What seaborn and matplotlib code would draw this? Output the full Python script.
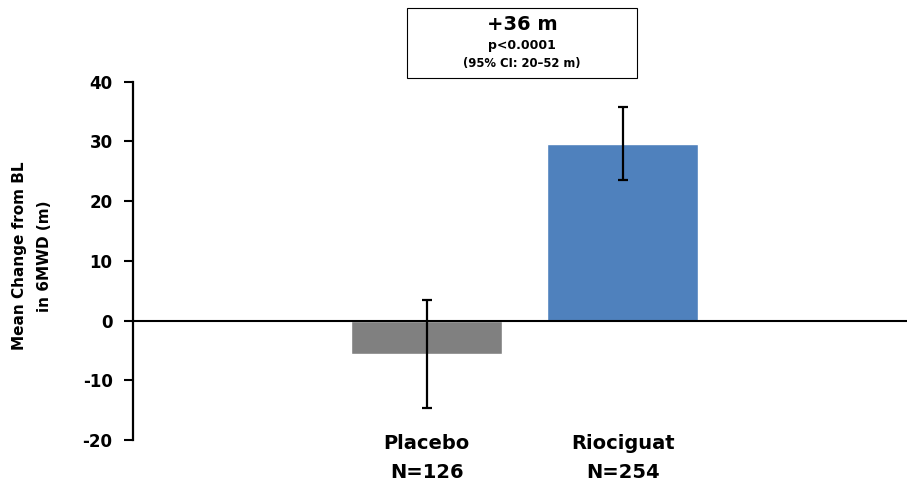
import matplotlib
matplotlib.use("Agg")
import matplotlib.pyplot as plt
import seaborn as sns
import pandas as pd
from matplotlib.patches import Rectangle

groups = ["Placebo", "Riociguat"]
tick_labels = ["Placebo\nN=126", "Riociguat\nN=254"]
means = [-5.6, 29.6]
err_low = [-14.6, 23.6]
err_high = [3.5, 35.7]
colors = ["#808080", "#4F81BD"]
yticks = [-20, -10, 0, 10, 20, 30, 40]

sns.set_theme(style="white")
plt.rcParams['font.family'] = ['DejaVu Sans']
plt.rcParams['text.color'] = 'black'
plt.rcParams['ytick.color'] = 'black'
plt.rcParams['axes.labelcolor'] = 'black'

fig = plt.figure(figsize=(9.09, 4.83), dpi=100)
ax = fig.add_axes([0.146, 0.089, 0.852, 0.742])

df = pd.DataFrame({"group": groups, "mean": means})
sns.barplot(data=df, x="group", y="mean", hue="group", palette=colors,
            width=0.77, legend=False, ax=ax, saturation=1)

yerr = [[m - l for m, l in zip(means, err_low)], [h - m for m, h in zip(means, err_high)]]
ax.errorbar(range(len(groups)), means, yerr=yerr, fmt="none", ecolor="black",
            elinewidth=1.6, capsize=3.3, capthick=1.6, zorder=5)

ax.axhline(0, color="black", lw=1.5, zorder=4)
ax.set_ylim(-20, 40)
ax.set_xlim(-1.5, 2.45)
ax.set_yticks(yticks)
ax.set_yticklabels([str(t) for t in yticks], fontsize=12, fontweight="bold")
ax.set_xticks([])
ax.set_xlabel("")
ax.set_ylabel("")
for s in ["top", "right", "bottom"]:
    ax.spines[s].set_visible(False)
ax.spines["left"].set_color("black")
ax.spines["left"].set_linewidth(1.6)
ax.tick_params(axis="y", direction="out", length=6.5, width=1.5, color="black",
               labelcolor="black", left=True, pad=8)

W, H = 909, 483
fig.text(32 / W, 1 - 256 / H, "Mean Change from BL\nin 6MWD (m)", rotation=90,
         ha="center", va="center", multialignment="center", fontsize=11,
         fontweight="bold", linespacing=1.85)

for i, lab in enumerate(tick_labels):
    ax.text(i, -19.0, lab, ha="center", va="top", fontsize=14, fontweight="bold",
            linespacing=1.65, transform=ax.transData, clip_on=False)

# annotation box
fig.add_artist(Rectangle((407 / W, 1 - 78 / H), 230 / W, 70 / H, transform=fig.transFigure,
                         fill=False, edgecolor="black", lw=0.8))
fig.text(522 / W, 1 - 25 / H, "+36 m", ha="center", va="center", fontsize=14, fontweight="bold")
fig.text(522 / W, 1 - 46 / H, "p<0.0001", ha="center", va="center", fontsize=9, fontweight="bold")
fig.text(522 / W, 1 - 64 / H, "(95% CI: 20\u201352 m)", ha="center", va="center", fontsize=8.4, fontweight="bold")

fig.savefig("out.png", dpi=100)
